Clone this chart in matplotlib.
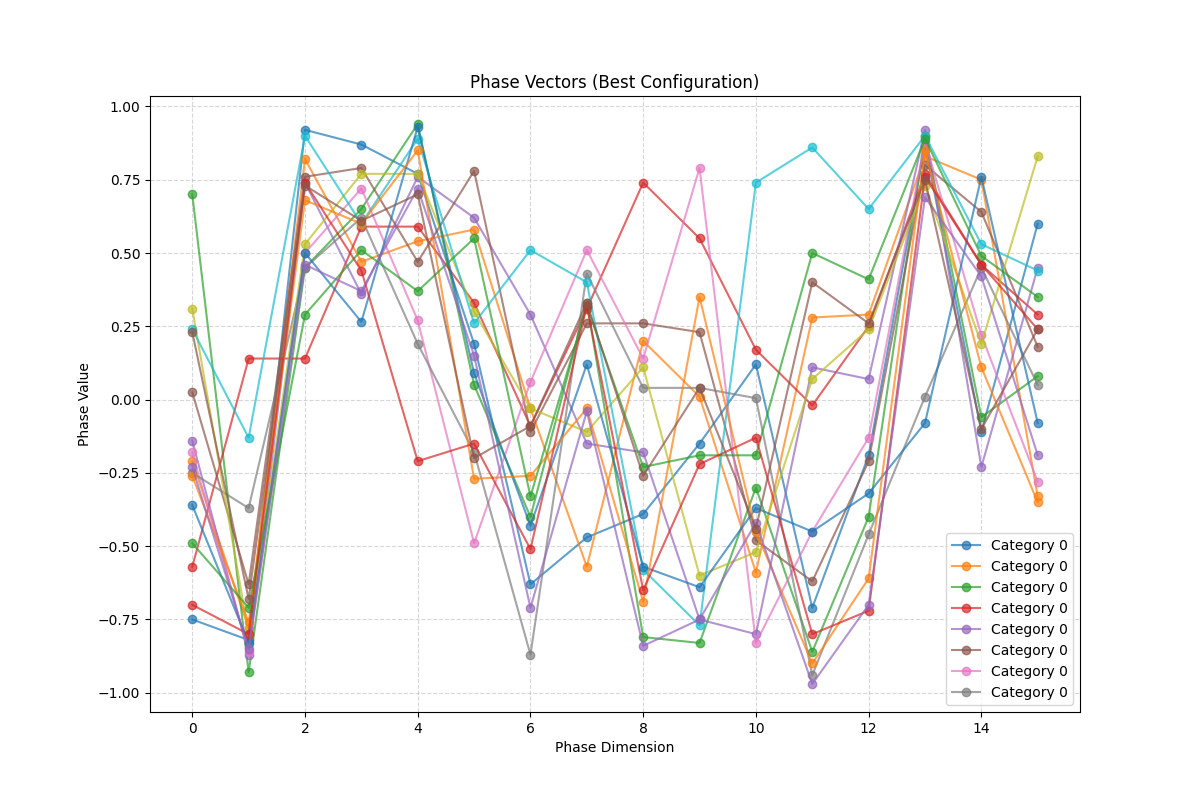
import matplotlib
matplotlib.use("Agg")
import matplotlib.pyplot as plt

dims = list(range(16))

blue_a = [-0.75, -0.82, 0.92, 0.87, 0.77, 0.19, -0.63, -0.47, -0.39, -0.15, 0.12, -0.71, -0.19, 0.87, -0.11, 0.60]
orange_a = [-0.21, -0.78, 0.82, 0.47, 0.54, 0.58, -0.03, -0.57, 0.20, 0.01, -0.59, 0.28, 0.29, 0.83, 0.75, -0.33]
green_a = [0.70, -0.93, 0.45, 0.65, 0.94, 0.05, -0.40, 0.33, -0.81, -0.83, -0.30, -0.86, -0.40, 0.90, -0.06, 0.08]
red_a = [-0.57, 0.14, 0.14, 0.59, 0.59, 0.33, -0.09, 0.31, 0.74, 0.55, 0.17, -0.02, 0.25, 0.77, 0.46, 0.29]
purple_a = [-0.14, -0.87, 0.74, 0.36, 0.76, 0.62, 0.29, -0.15, -0.18, -0.75, -0.80, 0.11, 0.07, 0.92, -0.23, 0.45]
brown_a = [0.025, -0.63, 0.76, 0.79, 0.47, 0.78, -0.11, 0.26, 0.26, 0.23, -0.48, -0.62, -0.21, 0.80, 0.64, 0.18]
pink = [-0.18, -0.86, 0.50, 0.72, 0.27, -0.49, 0.06, 0.51, 0.14, 0.79, -0.83, -0.45, -0.13, 0.88, 0.22, -0.28]
gray = [-0.25, -0.37, 0.45, 0.62, 0.19, -0.18, -0.87, 0.43, 0.04, 0.04, 0.005, -0.94, -0.46, 0.01, 0.45, 0.05]
olive = [0.31, -0.80, 0.53, 0.77, 0.77, 0.30, -0.03, -0.11, 0.11, -0.60, -0.52, 0.07, 0.24, 0.73, 0.19, 0.83]
cyan = [0.24, -0.13, 0.90, 0.60, 0.89, 0.26, 0.51, 0.40, -0.58, -0.77, 0.74, 0.86, 0.65, 0.90, 0.53, 0.44]
blue_b = [-0.36, -0.83, 0.50, 0.265, 0.93, 0.09, -0.43, 0.12, -0.57, -0.64, -0.37, -0.45, -0.32, -0.08, 0.76, -0.08]
orange_b = [-0.26, -0.76, 0.68, 0.60, 0.85, -0.27, -0.26, -0.03, -0.69, 0.35, -0.45, -0.90, -0.61, 0.85, 0.11, -0.35]
green_b = [-0.49, -0.71, 0.29, 0.51, 0.37, 0.55, -0.33, 0.32, -0.23, -0.19, -0.19, 0.50, 0.41, 0.89, 0.49, 0.35]
red_b = [-0.70, -0.80, 0.74, 0.44, -0.21, -0.15, -0.51, 0.32, -0.65, -0.22, -0.13, -0.80, -0.72, 0.76, 0.46, 0.24]
purple_b = [-0.23, -0.85, 0.46, 0.37, 0.72, 0.15, -0.71, -0.04, -0.84, -0.75, -0.42, -0.97, -0.70, 0.69, 0.42, -0.19]
brown_b = [0.23, -0.68, 0.73, 0.61, 0.70, -0.20, -0.09, 0.33, -0.26, 0.04, -0.44, 0.40, 0.26, 0.75, -0.10, 0.24]

vectors = [blue_a, orange_a, green_a, red_a, purple_a, brown_a, pink, gray, olive, cyan,
           blue_b, orange_b, green_b, red_b, purple_b, brown_b]

fig, ax = plt.subplots(figsize=(12, 8), dpi=100)
lines = []
for v in vectors:
    ln, = ax.plot(dims, v, marker='o', alpha=0.7, label='Category 0')
    lines.append(ln)

ax.set_title("Phase Vectors (Best Configuration)")
ax.set_xlabel("Phase Dimension")
ax.set_ylabel("Phase Value")
ax.grid(True, linestyle='--', alpha=0.5)
ax.legend(handles=lines[:8], loc='lower right')
plt.savefig("out.png")
